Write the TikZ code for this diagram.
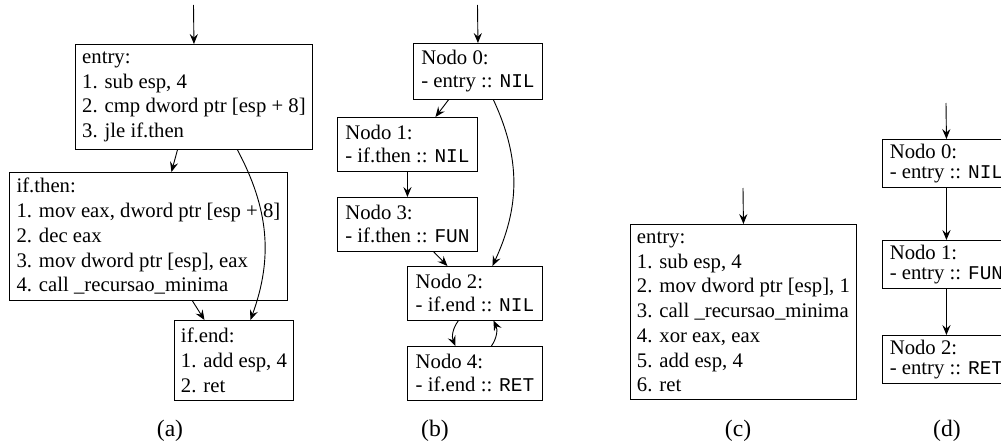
\documentclass[tikz,border=0pt]{standalone}
\usepackage{fontspec}
\setmainfont{Liberation Serif}
\setmonofont{Liberation Mono}
\usetikzlibrary{arrows.meta,calc}
\newcommand{\tipo}[1]{{\ttfamily\fontsize{10.7}{12}\selectfont #1}}

\begin{document}
\begin{tikzpicture}[x=0.55pt,y=0.55pt,line width=0.5pt,
  >={Stealth[length=5.5pt,width=4.5pt,inset=2pt]},
  bloco/.style={draw, anchor=north west, align=left, inner xsep=3pt, inner ysep=0pt,
    font=\fontsize{11.4}{#1}\selectfont},
  bloco/.default=13.6,
  legenda/.style={font=\fontsize{13}{15}\selectfont}
  ]
  \useasboundingbox (0,0) rectangle (1001,445);
  \clip (0,0) rectangle (1001,445);

  % (a)
  \coordinate (aIn) at (193.5,440);
  \node[bloco, minimum width=130.35pt, minimum height=57.75pt] (aEntry) at (75,401)
    {entry:\\1. sub esp, 4\\2. cmp dword ptr [esp + 8]\\3. jle if.then};
  \node[bloco, minimum width=152.9pt, minimum height=70.4pt] (aThen) at (9,273)
    {if.then:\\1. mov eax, dword ptr [esp + 8]\\2. dec eax\\3. mov dword ptr [esp], eax\\4. call \_recursao\_minima};
  \node[bloco, minimum width=65.45pt, minimum height=44pt] (aEnd) at (174,125)
    {if.end:\\1. add esp, 4\\2. ret};
  \node[legenda] (legA) at (170,14) {(a)};

  \draw[->] (aIn) -- (aEntry.north);
  \draw[->] ($(aEntry.south)+(-16.5,0)$) -- ($(aThen.north)+(23,0)$);
  \draw[->] ($(aEntry.south)+(43.5,0)$) to[out=-62,in=70] ($(aEnd.north)+(16.5,0)$);
  \draw[->] ($(aThen.south)+(44,0)$) -- ($(aEnd.north)+(-29.5,0)$);

  % (b)
  \coordinate (bIn) at (477.5,440);
  \node[bloco=12.6, minimum width=70.95pt, minimum height=30.8pt] (b0) at (413,402)
    {Nodo 0:\\- entry :: \tipo{NIL}};
  \node[bloco=12.6, minimum width=77pt, minimum height=29.5pt] (b1) at (337,328)
    {Nodo 1:\\- if.then :: \tipo{NIL}};
  \node[bloco=12.6, minimum width=77pt, minimum height=29.5pt] (b3) at (337,248)
    {Nodo 3:\\- if.then :: \tipo{FUN}};
  \node[bloco=12.6, minimum width=74.25pt, minimum height=29.5pt] (b2) at (407,179)
    {Nodo 2:\\- if.end :: \tipo{NIL}};
  \node[bloco=12.6, minimum width=74.25pt, minimum height=29.5pt] (b4) at (407,99)
    {Nodo 4:\\- if.end :: \tipo{RET}};
  \node[legenda] (legB) at (435,14) {(b)};

  \draw[->] (bIn) -- (b0.north);
  \draw[->] ($(b0.south)+(-29.5,0)$) -- ($(b1.north)+(28,0)$);
  \draw[->] (b1) -- (b3);
  \draw[->] ($(b0.south)+(15.5,0)$) to[out=-65,in=65] ($(b2.north)+(17.5,0)$);
  \draw[->] ($(b3.south)+(26,0)$) -- ($(b2.north)+(-27.5,0)$);
  \draw[->] ($(b2.south)+(-16.5,0)$) to[bend right=30] ($(b4.north)+(-19.5,0)$);
  \draw[->] ($(b4.north)+(16.5,0)$) to[bend right=30] ($(b2.south)+(18.5,0)$);

  % (c)
  \coordinate (cIn) at (743,257);
  \node[bloco, minimum width=124.3pt, minimum height=96.25pt] (cEntry) at (630,221)
    {entry:\\1. sub esp, 4\\2. mov dword ptr [esp], 1\\3. call \_recursao\_minima\\4. xor eax, eax\\5. add esp, 4\\6. ret};
  \node[legenda] (legC) at (738,14) {(c)};

  \draw[->] (cIn) -- (cEntry.north);

  % (d)
  \coordinate (dIn) at (946,342);
  \node[bloco=11, minimum width=70.4pt, minimum height=26.4pt] (d0) at (882,306)
    {Nodo 0:\\- entry :: \tipo{NIL}};
  \node[bloco=11, minimum width=70.4pt, minimum height=26.4pt] (d1) at (882,205)
    {Nodo 1:\\- entry :: \tipo{FUN}};
  \node[bloco=11, minimum width=70.4pt, minimum height=26.4pt] (d2) at (882,110)
    {Nodo 2:\\- entry :: \tipo{RET}};
  \node[legenda] (legD) at (947,14) {(d)};

  \draw[->] (dIn) -- (d0.north);
  \draw[->] (d0) -- (d1);
  \draw[->] (d1) -- (d2);
\end{tikzpicture}
\end{document}
